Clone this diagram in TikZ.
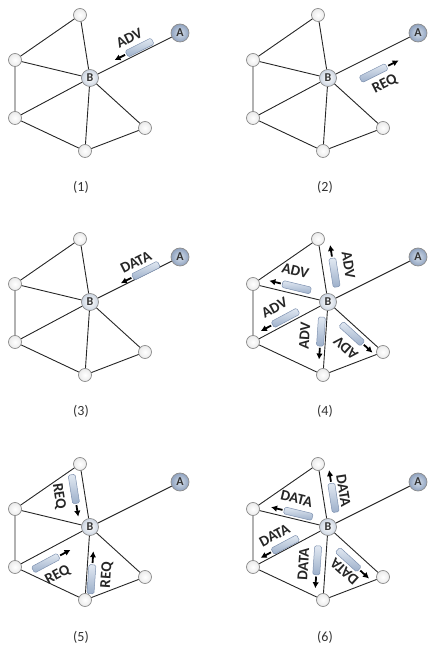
\documentclass[tikz,border=0pt]{standalone}
\usepackage{fontspec}
\setmainfont{Carlito}
\usetikzlibrary{arrows.meta}

\definecolor{pktlight}{HTML}{E2E9F2}
\definecolor{pktdark}{HTML}{9CAFCA}
\definecolor{pktline}{HTML}{7F92B0}
\definecolor{srclight}{HTML}{D6E0EC}
\definecolor{srcdark}{HTML}{8FA2BF}
\definecolor{hubfill}{HTML}{CCD5E1}
\definecolor{ringgray}{HTML}{8C8C8C}

% the network, drawn once per panel
\newcommand\net{%
  \node[nd] (T) at (80,-15) {};
  \node[nd] (L1) at (15,-60) {};
  \node[hub] (B) at (90,-78) {B};
  \node[src] (A) at (180,-33) {A};
  \node[nd] (L2) at (15,-118) {};
  \node[nd] (D) at (85,-151) {};
  \node[nd] (R) at (145,-128) {};
  \draw[ln] (T) -- (L1) (T) -- (B) (L1) -- (B) (L1) -- (L2) (L2) -- (B)
    (L2) -- (D) (D) -- (B) (D) -- (R) (R) -- (B) (B) -- (A);}

% name, direction, distance from B, packet side, label side, text, text turn
\newcommand\msg[7]{%
  \begin{scope}[shift={(B)}, rotate=#2, transform shape]
    \node[pkt] (#1) at (#3,#4) {};
    \coordinate (#1e) at (#3+28,#4);
    \draw[msg] (#1.east) -- (#1e);
    \node[lbl, rotate=#7] (#1t) at (#3+5,#5) {#6};
  \end{scope}}

\begin{document}
\begin{tikzpicture}[x=1pt, y=1pt,
  nd/.style={circle, minimum size=13pt, inner sep=0pt, draw=ringgray, line width=0.7pt, inner color=white, outer color=black!8},
  hub/.style={nd, minimum size=17pt, outer color=hubfill, font=\bfseries\fontsize{12}{12}\selectfont, text=black!80},
  src/.style={nd, minimum size=18pt, inner color=srclight, outer color=srcdark, font=\bfseries\fontsize{12}{12}\selectfont, text=black!80},
  ln/.style={line width=0.9pt, black!85},
  pkt/.style={rectangle, rounded corners=1.5pt, minimum width=29pt, minimum height=7pt, inner sep=0pt, draw=pktline, line width=0.5pt, top color=pktlight, bottom color=pktdark},
  msg/.style={-{Latex[length=6pt,width=6.5pt]}, line width=1.8pt, shorten <=1.5pt},
  lbl/.style={inner sep=0pt, font=\bfseries\fontsize{15}{15}\selectfont, text=black!85},
  panelno/.style={font=\fontsize{14}{14}\selectfont, text=black!80}]
  \useasboundingbox (0,0) rectangle (428,651);

  \begin{scope}[shift={(0,651)}, name prefix=p1-]
    \net
    \msg{adv}{206.6}{-58}{-5}{-18}{ADV}{180}
    \node[panelno] (n) at (81,-187) {(1)};
  \end{scope}

  \begin{scope}[shift={(238,651)}, name prefix=p2-]
    \net
    \msg{req}{26.6}{43}{-16}{-31}{REQ}{0}
    \node[panelno] (n) at (87,-187) {(2)};
  \end{scope}

  \begin{scope}[shift={(0,427)}, name prefix=p3-]
    \net
    \msg{data}{206.6}{-64}{-3}{-15}{DATA}{180}
    \node[panelno] (n) at (81,-187) {(3)};
  \end{scope}

  \begin{scope}[shift={(238,427)}, name prefix=p4-]
    \net
    \msg{t}{99}{28}{-11}{-26}{ADV}{180}
    \msg{l1}{166.5}{34}{-7}{-23}{ADV}{180}
    \msg{l2}{208.1}{45}{-6}{-20}{ADV}{180}
    \msg{d}{266.1}{30}{-5}{-21}{ADV}{180}
    \msg{r}{-42.3}{39}{-7.5}{-22}{ADV}{180}
    \node[panelno] (n) at (87,-187) {(4)};
  \end{scope}

  \begin{scope}[shift={(0,202)}, name prefix=p5-]
    \net
    \msg{t}{-81}{-40}{-10}{-26}{REQ}{0}
    \msg{l2}{28.1}{-56}{-11}{-27}{REQ}{0}
    \msg{d}{86.1}{-52}{-5}{-20}{REQ}{0}
    \node[panelno] (n) at (81,-188) {(5)};
  \end{scope}

  \begin{scope}[shift={(238,202)}, name prefix=p6-]
    \net
    \msg{t}{99}{28}{-10}{-21}{DATA}{180}
    \msg{l1}{166.5}{32}{-6}{-20}{DATA}{180}
    \msg{l2}{208.1}{46}{-4.5}{-18}{DATA}{180}
    \msg{d}{266.1}{34}{-8.5}{-22}{DATA}{180}
    \msg{r}{-42.3}{37}{-10.5}{-22}{DATA}{180}
    \node[panelno] (n) at (87,-188) {(6)};
  \end{scope}
\end{tikzpicture}
\end{document}
